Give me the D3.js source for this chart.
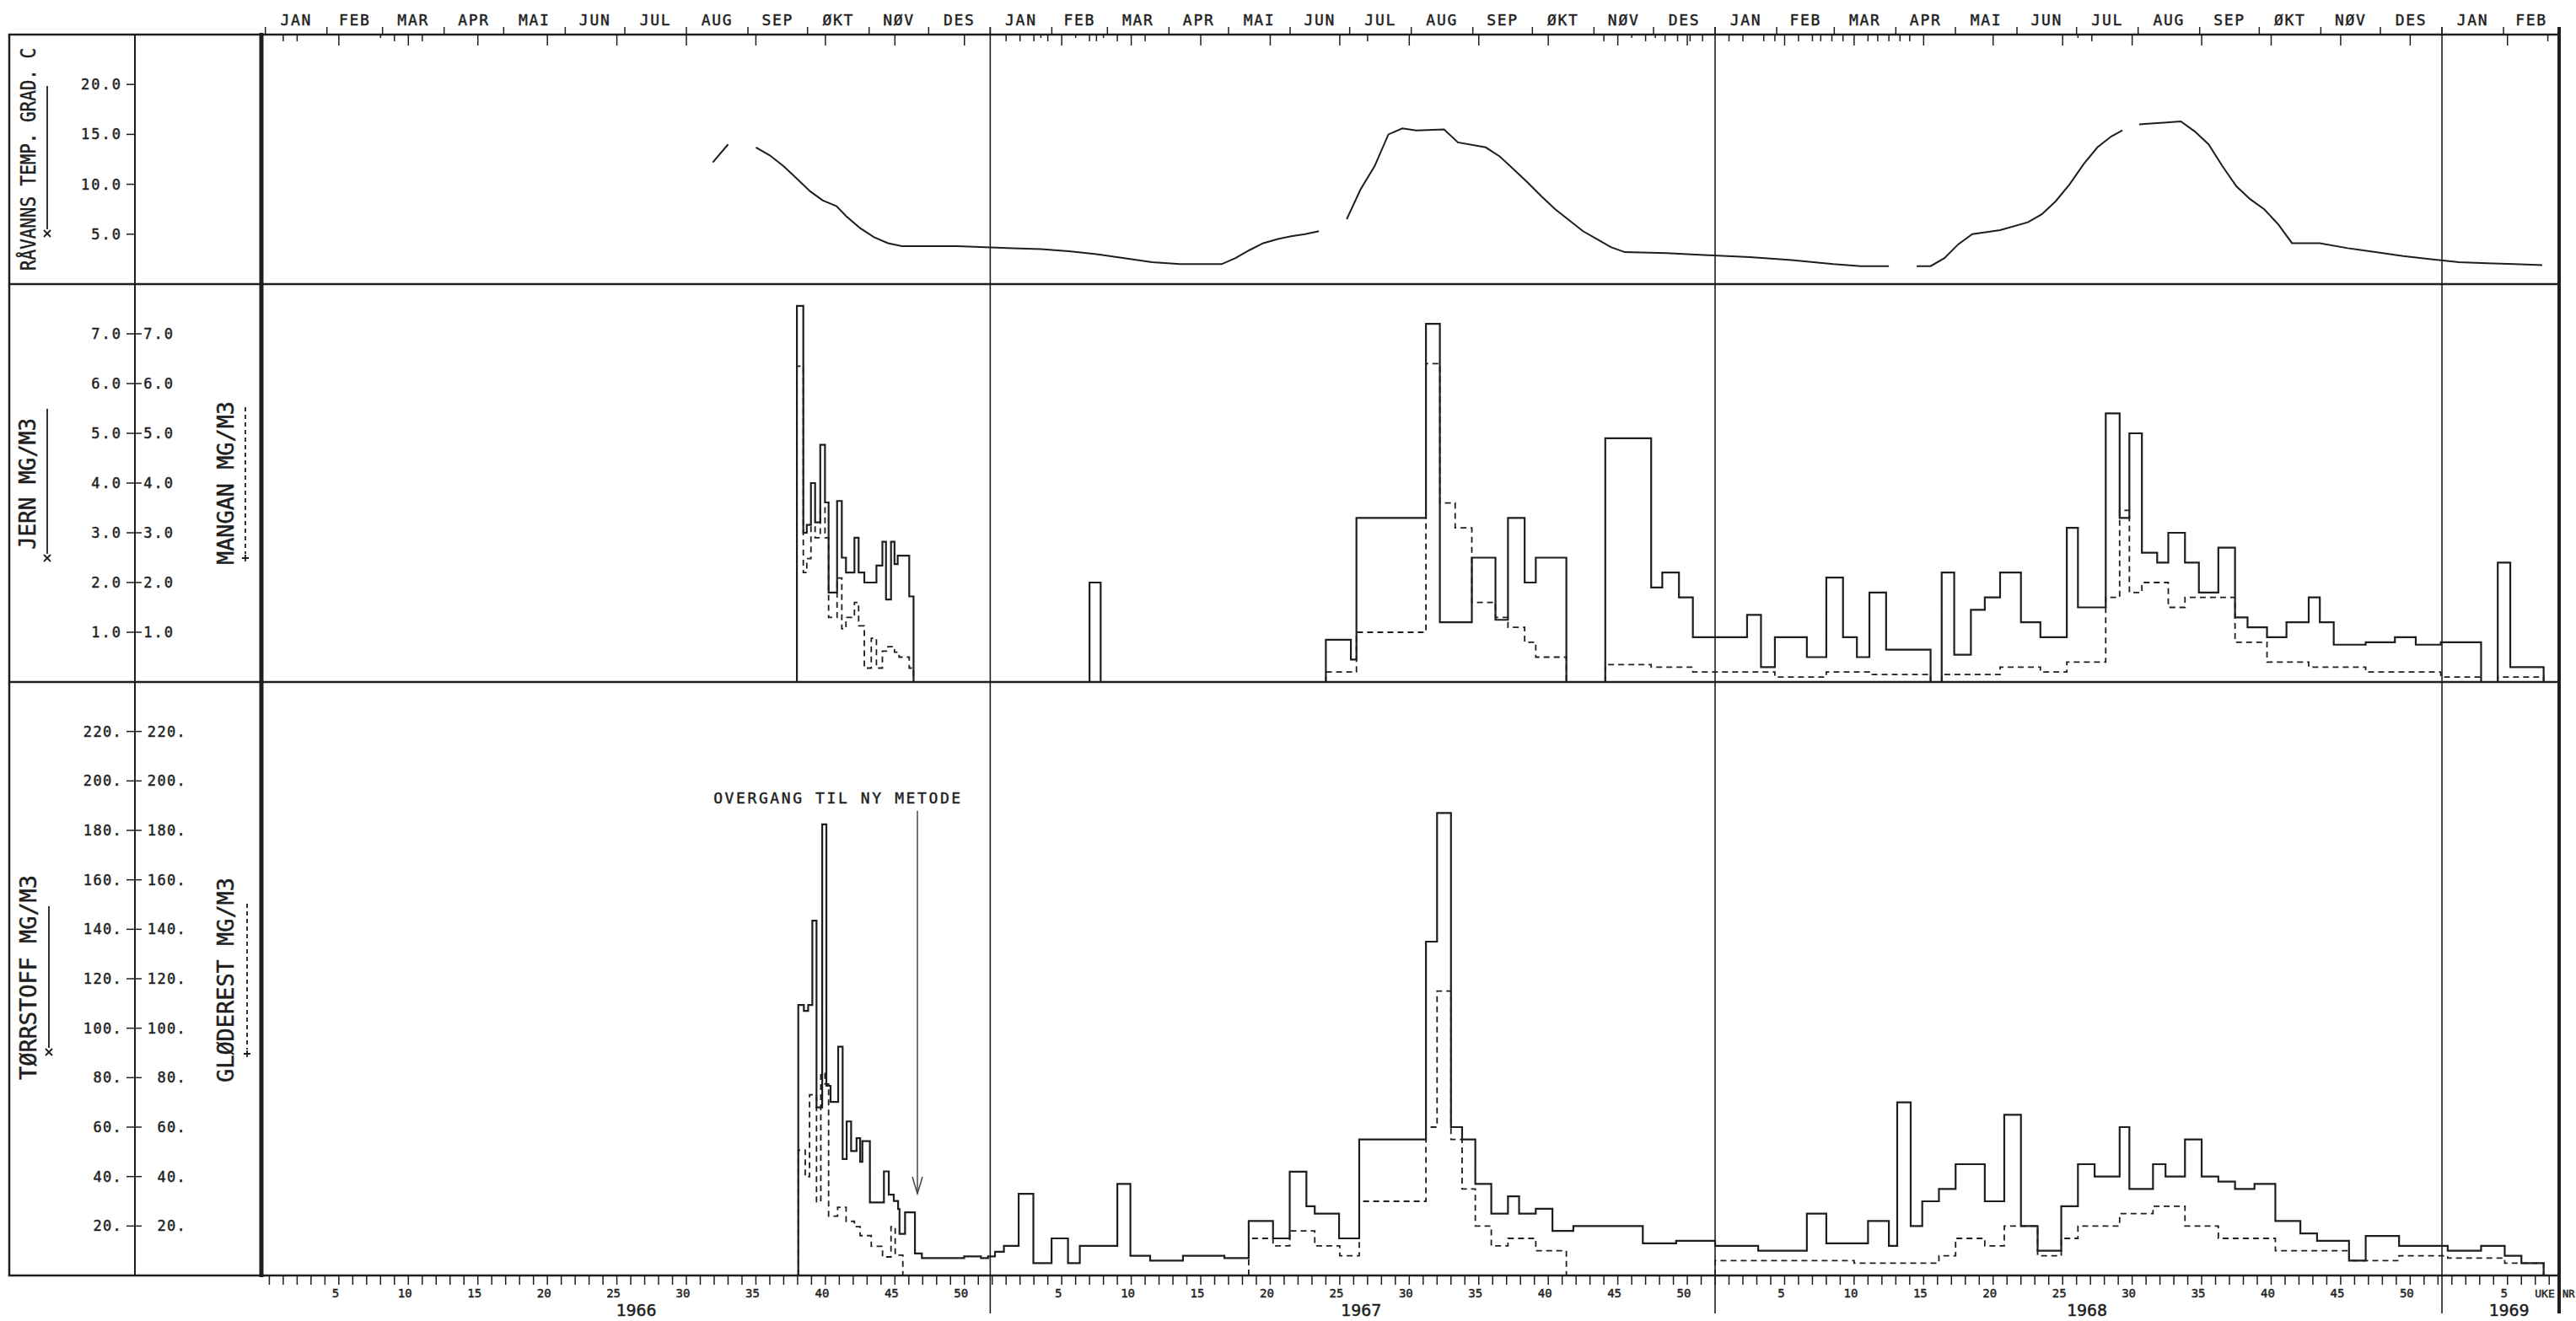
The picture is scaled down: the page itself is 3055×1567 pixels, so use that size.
<!DOCTYPE html>
<html>
<head>
<meta charset="utf-8">
<script src="https://cdn.jsdelivr.net/npm/d3@7"></script>
<style>
  body { margin: 0; background: #fff; }
  text { font-family: "DejaVu Sans Mono", monospace; fill: #1e1e1e; stroke: #1e1e1e; stroke-width: 0.45; }
</style>
</head>
<body>
<svg id="chart" width="3055" height="1567"></svg>
<script>
// month / year labels
var months = ["JAN", "FEB", "MAR", "APR", "MAI", "JUN", "JUL", "AUG", "SEP", "ØKT", "NØV", "DES"];
var years = [1966, 1967, 1968, 1969];
var tempTicks = [5, 10, 15, 20];
var metalTicks = [1, 2, 3, 4, 5, 6, 7];
var solidsTicks = [20, 40, 60, 80, 100, 120, 140, 160, 180, 200, 220];

// sample marks under the top edge: [year, week, kind] kind 1 = short, 0 = dot
var sampleMarks = [
  [1966, 1, 1], [1966, 2, 1], [1966, 8, 0], [1966, 9, 1], [1966, 11, 1],
  [1967, 1, 1], [1967, 2, 1], [1967, 3, 1], [1967, 3.5, 0], [1967, 4, 1], [1967, 6, 0], [1967, 7, 1],
  [1967, 7.5, 1], [1967, 8, 0], [1967, 9, 1], [1967, 11, 1], [1967, 27, 1], [1967, 44, 1], [1967, 46, 0],
  [1967, 47, 1], [1967, 47.7, 0], [1967, 48.4, 1], [1967, 49.3, 1], [1967, 50.2, 1], [1967, 51.1, 1],
  [1968, 1, 1], [1968, 2, 1], [1968, 3.5, 1], [1968, 4.3, 1], [1968, 6, 1], [1968, 7, 1], [1968, 7.6, 1],
  [1968, 8.4, 1], [1968, 9.2, 1], [1968, 11, 1], [1968, 11.7, 1], [1968, 12.5, 1], [1968, 13.3, 1],
  [1968, 14, 1], [1968, 26.1, 0], [1968, 27.1, 1], [1969, 7.9, 1]
];

// points are [year, week (position on the UKE axis), value]; null value = break / end of run
var temp = [
  [1966, 31.9, 12.2], [1966, 33.0, 14.0], [1966, 33.8, null],
  [1966, 35.0, 13.7], [1966, 36.0, 12.9], [1966, 37.0, 11.8], [1966, 38.0, 10.5], [1966, 38.9, 9.3],
  [1966, 39.8, 8.4], [1966, 40.8, 7.8], [1966, 41.5, 6.8], [1966, 42.5, 5.6], [1966, 43.5, 4.7],
  [1966, 44.5, 4.1], [1966, 45.5, 3.8], [1966, 47.5, 3.8], [1966, 49.5, 3.8], [1966, 51.5, 3.7],
  [1967, 1.5, 3.6], [1967, 3.5, 3.5], [1967, 5.5, 3.3], [1967, 7.5, 3.0], [1967, 9.5, 2.6],
  [1967, 11.5, 2.2], [1967, 13.5, 2.0], [1967, 16.5, 2.0], [1967, 17.5, 2.6], [1967, 18.5, 3.4],
  [1967, 19.5, 4.1], [1967, 20.5, 4.5], [1967, 21.5, 4.8], [1967, 22.5, 5.0], [1967, 23.5, 5.3],
  [1967, 24.5, null],
  [1967, 25.5, 6.5], [1967, 26.5, 9.5], [1967, 27.5, 11.8], [1967, 28.5, 15.0], [1967, 29.5, 15.6],
  [1967, 30.5, 15.4], [1967, 32.5, 15.5], [1967, 33.5, 14.2], [1967, 35.5, 13.7], [1967, 36.5, 12.8],
  [1967, 37.5, 11.5], [1967, 38.5, 10.2], [1967, 39.5, 8.8], [1967, 40.5, 7.5], [1967, 41.5, 6.4],
  [1967, 42.5, 5.3], [1967, 43.5, 4.5], [1967, 44.5, 3.7], [1967, 45.5, 3.2], [1967, 48.5, 3.1],
  [1967, 51.5, 2.9], [1968, 2.5, 2.7], [1968, 5.5, 2.4], [1968, 8.5, 2.0], [1968, 10.5, 1.8],
  [1968, 12.5, 1.8], [1968, 13.5, null],
  [1968, 14.5, 1.8], [1968, 15.5, 1.8], [1968, 16.5, 2.6], [1968, 17.5, 4.0], [1968, 18.5, 5.0],
  [1968, 20.5, 5.4], [1968, 22.5, 6.2], [1968, 23.5, 7.0], [1968, 24.5, 8.3], [1968, 25.5, 10.0],
  [1968, 26.5, 12.0], [1968, 27.5, 13.7], [1968, 28.5, 14.8], [1968, 29.3, 15.4], [1968, 30.0, null],
  [1968, 30.5, 16.0], [1968, 32.5, 16.2], [1968, 33.5, 16.3], [1968, 34.5, 15.3], [1968, 35.5, 14.0],
  [1968, 36.5, 11.8], [1968, 37.5, 9.8], [1968, 38.5, 8.5], [1968, 39.5, 7.5], [1968, 40.5, 6.0],
  [1968, 41.5, 4.1], [1968, 43.5, 4.1], [1968, 45.5, 3.6], [1968, 47.5, 3.2], [1968, 49.5, 2.8],
  [1968, 51.5, 2.5], [1969, 1.5, 2.2], [1969, 3.5, 2.1], [1969, 5.5, 2.0], [1969, 7.5, 1.9]
];

var jern = [
  [[1966, 37.95, 7.56], [1966, 38.41, 3.0], [1966, 38.66, 3.16], [1966, 38.96, 4.0], [1966, 39.26, 3.21],
   [1966, 39.63, 4.77], [1966, 39.97, 3.61], [1966, 40.23, 1.8], [1966, 40.84, 3.64], [1966, 41.18, 2.5],
   [1966, 41.48, 2.2], [1966, 42.09, 2.9], [1966, 42.39, 2.2], [1966, 42.8, 2.0], [1966, 43.67, 2.34],
   [1966, 44.1, 2.82], [1966, 44.36, 1.66], [1966, 44.72, 2.82], [1966, 44.97, 2.37], [1966, 45.2, 2.54],
   [1966, 46.03, 1.72], [1966, 46.34, null]],
  [[1967, 7.0, 2.0], [1967, 7.8, null]],
  [[1967, 24.0, 0.85], [1967, 25.8, 0.45], [1967, 26.2, 3.3], [1967, 31.2, 7.2], [1967, 32.2, 1.2],
   [1967, 34.5, 2.5], [1967, 36.2, 1.25], [1967, 37.1, 3.3], [1967, 38.3, 2.0], [1967, 39.1, 2.5],
   [1967, 41.3, null]],
  [[1967, 44.1, 4.9], [1967, 47.4, 1.9], [1967, 48.2, 2.2], [1967, 49.4, 1.7], [1967, 50.4, 0.9],
   [1968, 2.3, 1.35], [1968, 3.3, 0.3], [1968, 4.3, 0.9], [1968, 6.6, 0.5], [1968, 8.0, 2.1],
   [1968, 9.2, 0.9], [1968, 10.2, 0.5], [1968, 11.1, 1.8], [1968, 12.3, 0.65], [1968, 15.5, null]],
  [[1968, 16.3, 2.2], [1968, 17.2, 0.55], [1968, 18.4, 1.45], [1968, 19.4, 1.7], [1968, 20.5, 2.2],
   [1968, 22.0, 1.2], [1968, 23.4, 0.9], [1968, 25.3, 3.1], [1968, 26.1, 1.5], [1968, 28.1, 5.4],
   [1968, 29.1, 3.3], [1968, 29.8, 5.0], [1968, 30.7, 2.6], [1968, 31.8, 2.4], [1968, 32.6, 3.0],
   [1968, 33.8, 2.4], [1968, 34.8, 1.8], [1968, 36.2, 2.7], [1968, 37.4, 1.3], [1968, 38.3, 1.1],
   [1968, 39.7, 0.9], [1968, 41.1, 1.2], [1968, 42.7, 1.7], [1968, 43.5, 1.2], [1968, 44.5, 0.75],
   [1968, 46.8, 0.8], [1968, 48.9, 0.9], [1968, 50.4, 0.75], [1969, 0.2, 0.8], [1969, 3.1, null]],
  [[1969, 4.3, 2.4], [1969, 5.2, 0.3], [1969, 7.6, null]]
];

var mangan = [
  [[1966, 37.95, 6.35], [1966, 38.41, 2.2], [1966, 38.66, 2.48], [1966, 38.96, 3.13], [1966, 39.26, 2.9],
   [1966, 39.63, 3.5], [1966, 39.97, 2.9], [1966, 40.23, 1.3], [1966, 40.84, 2.09], [1966, 41.18, 1.07],
   [1966, 41.48, 1.3], [1966, 42.09, 1.6], [1966, 42.39, 1.13], [1966, 42.8, 0.28], [1966, 43.3, 0.88],
   [1966, 43.67, 0.28], [1966, 44.1, 0.62], [1966, 44.5, 0.71], [1966, 44.97, 0.6], [1966, 45.3, 0.5],
   [1966, 46.03, 0.28], [1966, 46.34, null]],
  [[1967, 24.0, 0.2], [1967, 26.2, 1.0], [1967, 31.2, 6.4], [1967, 32.2, 3.6], [1967, 33.3, 3.1],
   [1967, 34.5, 1.6], [1967, 36.2, 1.3], [1967, 37.1, 1.1], [1967, 38.3, 0.8], [1967, 39.1, 0.5],
   [1967, 41.3, null]],
  [[1967, 44.1, 0.35], [1967, 47.4, 0.3], [1967, 50.4, 0.2], [1968, 4.3, 0.1], [1968, 8.0, 0.2],
   [1968, 11.1, 0.15], [1968, 15.5, null]],
  [[1968, 16.3, 0.15], [1968, 20.5, 0.3], [1968, 23.4, 0.2], [1968, 25.3, 0.4], [1968, 28.1, 1.7],
   [1968, 29.1, 3.45], [1968, 29.8, 1.8], [1968, 30.7, 2.0], [1968, 32.6, 1.5], [1968, 33.8, 1.7],
   [1968, 36.2, 1.7], [1968, 37.4, 0.8], [1968, 39.7, 0.4], [1968, 42.7, 0.3], [1968, 46.8, 0.2],
   [1969, 0.2, 0.1], [1969, 3.1, null]],
  [[1969, 4.3, 0.1], [1969, 7.6, null]]
];

var torrstoff = [
  [[1966, 38.05, 109.4], [1966, 38.45, 107.0], [1966, 38.76, 109.4], [1966, 39.06, 143.5], [1966, 39.36, 68.0],
   [1966, 39.77, 182.4], [1966, 40.07, 76.7], [1966, 40.37, 70.2], [1966, 40.92, 92.5], [1966, 41.24, 47.1],
   [1966, 41.53, 62.3], [1966, 41.85, 50.3], [1966, 42.24, 55.5], [1966, 42.5, 46.0], [1966, 42.66, 54.3],
   [1966, 43.2, 29.5], [1966, 44.21, 42.1], [1966, 44.56, 32.7], [1966, 44.92, 30.1], [1966, 45.23, 26.9],
   [1966, 45.33, 16.8], [1966, 45.73, 25.5], [1966, 46.44, 8.9], [1966, 46.94, 7.0], [1966, 49.98, 7.7],
   [1966, 51.19, 7.0], [1966, 51.7, 7.7], [1967, 0.2, 9.6], [1967, 0.84, 12], [1967, 1.9, 33],
   [1967, 2.96, 5], [1967, 4.27, 15], [1967, 5.45, 5], [1967, 6.3, 12], [1967, 9.0, 37], [1967, 9.94, 8],
   [1967, 11.36, 6], [1967, 13.72, 8], [1967, 16.7, 7], [1967, 18.45, 22], [1967, 20.2, 15], [1967, 21.4, 42],
   [1967, 22.6, 28], [1967, 23.2, 25], [1967, 24.95, 15], [1967, 26.4, 55], [1967, 31.2, 135],
   [1967, 32.0, 187], [1967, 33.0, 60], [1967, 33.8, 55], [1967, 34.75, 37], [1967, 35.9, 25],
   [1967, 37.1, 32], [1967, 37.9, 25], [1967, 39.1, 27], [1967, 40.3, 18], [1967, 41.8, 20],
   [1967, 46.8, 13], [1967, 49.2, 14], [1968, 0.0, 12], [1968, 3.1, 10], [1968, 6.6, 25], [1968, 8.0, 13],
   [1968, 11.0, 22], [1968, 12.5, 12], [1968, 13.1, 70], [1968, 14.07, 20], [1968, 14.9, 30], [1968, 16.1, 35],
   [1968, 17.3, 45], [1968, 19.4, 30], [1968, 20.8, 65], [1968, 22.0, 20], [1968, 23.2, 10], [1968, 24.9, 28],
   [1968, 26.1, 45], [1968, 27.3, 40], [1968, 29.1, 60], [1968, 29.8, 35], [1968, 31.5, 45], [1968, 32.4, 40],
   [1968, 33.8, 55], [1968, 35.0, 40], [1968, 36.2, 38], [1968, 37.4, 35], [1968, 38.8, 37], [1968, 40.3, 22],
   [1968, 42.1, 17], [1968, 43.3, 14], [1968, 45.6, 6], [1968, 46.8, 16], [1968, 49.2, 12], [1969, 0.7, 10],
   [1969, 3.1, 12], [1969, 4.8, 8], [1969, 6.0, 5], [1969, 7.6, null]]
];

var gloderest = [
  [[1966, 38.05, 50.7], [1966, 38.55, 39.9], [1966, 38.86, 73.1], [1966, 39.36, 29.8], [1966, 39.67, 81.7],
   [1966, 39.97, 77.4], [1966, 40.23, 24.0], [1966, 40.88, 27.6], [1966, 41.49, 21.9], [1966, 42.09, 19.7],
   [1966, 42.5, 16.1], [1966, 43.3, 11.8], [1966, 44.11, 7.5], [1966, 44.72, 19.7], [1966, 45.02, 8.2],
   [1966, 45.57, null]],
  [[1967, 18.45, 15], [1967, 20.2, 12], [1967, 21.4, 18], [1967, 23.2, 12], [1967, 25.0, 8], [1967, 26.4, 30],
   [1967, 31.2, 60], [1967, 32.0, 115], [1967, 33.0, 55], [1967, 33.8, 35], [1967, 34.75, 20], [1967, 35.9, 12],
   [1967, 37.1, 15], [1967, 39.1, 10], [1967, 41.3, null]],
  [[1968, 0.0, 6], [1968, 10.0, 5], [1968, 16.1, 8], [1968, 17.3, 15], [1968, 19.4, 12], [1968, 20.8, 20],
   [1968, 23.2, 8], [1968, 24.9, 15], [1968, 26.1, 20], [1968, 29.1, 25], [1968, 31.5, 28], [1968, 33.8, 20],
   [1968, 36.2, 15], [1968, 40.3, 10], [1968, 45.6, 6], [1968, 49.2, 8], [1969, 0.7, 7], [1969, 4.8, 5],
   [1969, 7.6, null]]
];

var svg = d3.select("#chart");
var ink = "#1e1e1e";

var left = 310, right = 3035;
var panelTop = 41, tempBottom = 337, metalBottom = 809, solidsBottom = 1513;

// time axis, ISO week 1 of 1966 starts monday 3 jan 1966
var x = d3.scaleUtc()
  .domain([new Date(Date.UTC(1965, 11, 30)), new Date(Date.UTC(1969, 2, 1))])
  .range([left, right]);
var weekZero = Date.UTC(1966, 0, 3);
function ukeDate(year, uke) {
  return new Date(weekZero + ((year - 1966) * 52 + uke) * 7 * 864e5);
}
function px(d) { return x(ukeDate(d[0], d[1])); }

var yTemp = d3.scaleLinear().domain([0, 25]).range([tempBottom, panelTop]);
var yMetal = d3.scaleLinear().domain([0, 8]).range([metalBottom, tempBottom]);
var ySolids = d3.scaleLinear().domain([0, 240]).range([solidsBottom, metalBottom]);

// frame
var frame = svg.append("g").attr("stroke", ink).attr("fill", "none");
frame.append("rect")
  .attr("x", 11).attr("y", panelTop)
  .attr("width", right - 11).attr("height", solidsBottom - panelTop)
  .attr("stroke-width", 2.5);
[tempBottom, metalBottom].forEach(function(yy) {
  frame.append("line").attr("x1", 11).attr("x2", right).attr("y1", yy).attr("y2", yy).attr("stroke-width", 2.5);
});
frame.append("line").attr("x1", 160).attr("x2", 160).attr("y1", panelTop).attr("y2", solidsBottom).attr("stroke-width", 2);
frame.append("line").attr("x1", left).attr("x2", left).attr("y1", panelTop - 2).attr("y2", solidsBottom + 2).attr("stroke-width", 5);
frame.append("line").attr("x1", right).attr("x2", right).attr("y1", panelTop - 9).attr("y2", 1558).attr("stroke-width", 4);

// year dividers
[1967, 1968, 1969].forEach(function(yr) {
  var xx = x(new Date(Date.UTC(yr, 0, 1)));
  frame.append("line").attr("x1", xx).attr("x2", xx).attr("y1", panelTop - 9).attr("y2", 1558).attr("stroke-width", 1.6);
});

// top axis: months
var monthStarts = d3.utcMonth.range(new Date(Date.UTC(1966, 0, 1)), new Date(Date.UTC(1969, 2, 2)));
svg.append("g").selectAll("line").data(monthStarts).enter().append("line")
  .attr("x1", d => x(d)).attr("x2", d => x(d))
  .attr("y1", panelTop - 9).attr("y2", panelTop)
  .attr("stroke", ink).attr("stroke-width", 1.5);
svg.append("g").selectAll("text").data(monthStarts.slice(0, -1)).enter().append("text")
  .attr("x", d => (x(d) + x(d3.utcMonth.offset(d, 1))) / 2)
  .attr("y", 30)
  .attr("text-anchor", "middle")
  .attr("font-size", 18)
  .attr("letter-spacing", 1.7)
  .text(d => months[d.getUTCMonth()]);

// top axis: every fifth week long, sample weeks short
var weeks = d3.range(0, 165);
svg.append("g").selectAll("line").data(weeks.filter(t => t % 52 > 0 && (t % 52) % 5 === 0)).enter().append("line")
  .attr("x1", t => x(ukeDate(1966, t))).attr("x2", t => x(ukeDate(1966, t)))
  .attr("y1", panelTop).attr("y2", panelTop + 13)
  .attr("stroke", ink).attr("stroke-width", 1.5);
svg.append("g").selectAll("line").data(sampleMarks).enter().append("line")
  .attr("x1", px).attr("x2", px)
  .attr("y1", panelTop).attr("y2", d => panelTop + (d[2] ? 8 : 4))
  .attr("stroke", ink).attr("stroke-width", 1.5);

// bottom axis: week numbers
var wk = svg.append("g");
wk.selectAll("line").data(weeks).enter().append("line")
  .attr("x1", t => x(ukeDate(1966, t))).attr("x2", t => x(ukeDate(1966, t)))
  .attr("y1", solidsBottom).attr("y2", solidsBottom + 11)
  .attr("stroke", ink).attr("stroke-width", 1.5);
wk.selectAll("text").data(weeks.filter(t => t % 52 > 0 && (t % 52) % 5 === 0)).enter().append("text")
  .attr("x", t => x(ukeDate(1966, t)) - 4)
  .attr("y", 1539)
  .attr("text-anchor", "middle")
  .attr("font-size", 14)
  .text(t => t % 52);
svg.append("text").attr("x", 3018).attr("y", 1539).attr("text-anchor", "middle").attr("font-size", 13).text("UKE");
svg.append("text").attr("x", 3039).attr("y", 1539).attr("font-size", 12).text("NR");
svg.append("g").selectAll("text").data(years).enter().append("text")
  .attr("x", yr => (x(new Date(Date.UTC(yr, 0, 1))) + Math.min(right, x(new Date(Date.UTC(yr + 1, 0, 1))))) / 2 + 10)
  .attr("y", 1561)
  .attr("text-anchor", "middle")
  .attr("font-size", 20)
  .text(yr => yr);

// y axes on the label column
function tickColumn(scale, ticks, fmt, twoSided, rightEdge, spacing) {
  var g = svg.append("g");
  g.selectAll("line").data(ticks).enter().append("line")
    .attr("x1", 150).attr("x2", twoSided ? 168 : 160)
    .attr("y1", d => scale(d)).attr("y2", d => scale(d))
    .attr("stroke", ink).attr("stroke-width", 1.5);
  g.selectAll("text.l").data(ticks).enter().append("text")
    .attr("x", 145).attr("y", d => scale(d) + 6)
    .attr("text-anchor", "end").attr("font-size", 17).attr("letter-spacing", spacing)
    .text(fmt);
  if (twoSided) {
    g.selectAll("text.r").data(ticks).enter().append("text")
      .attr("x", rightEdge).attr("y", d => scale(d) + 6)
      .attr("text-anchor", "end").attr("font-size", 17).attr("letter-spacing", spacing)
      .text(fmt);
  }
}
tickColumn(yTemp, tempTicks, d => d.toFixed(1), false, 0, 2);
tickColumn(yMetal, metalTicks, d => d.toFixed(1), true, 207, 2);
tickColumn(ySolids, solidsTicks, d => d + ".", true, 221, 1.3);

// rotated axis titles with legend line
function axisTitle(label, bx, startY, len, size) {
  svg.append("text")
    .attr("transform", `translate(${bx},${startY}) rotate(-90)`)
    .attr("font-size", size)
    .attr("textLength", len).attr("lengthAdjust", "spacingAndGlyphs")
    .text(label);
}
function legendMark(mx, y1, y2, dashed) {
  svg.append("line").attr("x1", mx).attr("x2", mx).attr("y1", y1).attr("y2", y2)
    .attr("stroke", ink).attr("stroke-width", 1.8)
    .attr("stroke-dasharray", dashed ? "5,4" : null);
  if (dashed) {
    svg.append("path").attr("d", `M${mx - 4},${y2 + 5}h8M${mx},${y2 + 1}v8`).attr("stroke", ink).attr("stroke-width", 1.8);
  } else {
    svg.append("path").attr("d", `M${mx - 4},${y2 + 1}l8,8M${mx + 4},${y2 + 1}l-8,8`).attr("stroke", ink).attr("stroke-width", 1.8);
  }
}
axisTitle("RÅVANNS TEMP. GRAD. C", 42, 321, 264, 24);
legendMark(56, 102, 272, false);
axisTitle("JERN MG/M3", 42, 652, 156, 26);
legendMark(56, 485, 657, false);
axisTitle("MANGAN MG/M3", 277, 670, 194, 26);
legendMark(291, 483, 657, true);
axisTitle("TØRRSTOFF MG/M3", 43, 1281, 243, 26);
legendMark(58, 1075, 1243, false);
axisTitle("GLØDEREST MG/M3", 277, 1284, 243, 26);
legendMark(293, 1072, 1245, true);

// temperature curve
var tempLine = d3.line()
  .defined(d => d[2] !== null)
  .x(px)
  .y(d => yTemp(d[2]));
svg.append("path").datum(temp)
  .attr("d", tempLine)
  .attr("fill", "none").attr("stroke", ink).attr("stroke-width", 2);

// step series: each run rises from and falls back to the zero line
function stepRuns(runs, scale, dashed) {
  var line = d3.line()
    .x(px)
    .y(d => scale(d[2]))
    .curve(d3.curveStepAfter);
  svg.append("g").selectAll("path").data(runs).enter().append("path")
    .attr("d", function(run) {
      var first = run[0], last = run[run.length - 1];
      var pts = [[first[0], first[1], 0]].concat(run.slice(0, -1));
      pts.push([last[0], last[1], 0]);
      return line(pts);
    })
    .attr("fill", "none").attr("stroke", ink)
    .attr("stroke-width", dashed ? 1.8 : 2.2)
    .attr("stroke-dasharray", dashed ? "7,5" : null);
}
stepRuns(jern, yMetal, false);
stepRuns(mangan, yMetal, true);
stepRuns(torrstoff, ySolids, false);
stepRuns(gloderest, ySolids, true);

// annotation
svg.append("text").attr("x", 994).attr("y", 953).attr("text-anchor", "middle")
  .attr("font-family", "DejaVu Sans").attr("font-size", 18).attr("letter-spacing", 2.6)
  .attr("fill", "#333").attr("stroke", "none")
  .text("OVERGANG TIL NY METODE");
svg.append("line").attr("x1", 1088).attr("x2", 1088).attr("y1", 962).attr("y2", 1414)
  .attr("stroke", "#444").attr("stroke-width", 1.5);
svg.append("path").attr("d", "M1082,1396L1088,1416L1094,1396")
  .attr("fill", "none").attr("stroke", "#444").attr("stroke-width", 1.5);
</script>
</body>
</html>
